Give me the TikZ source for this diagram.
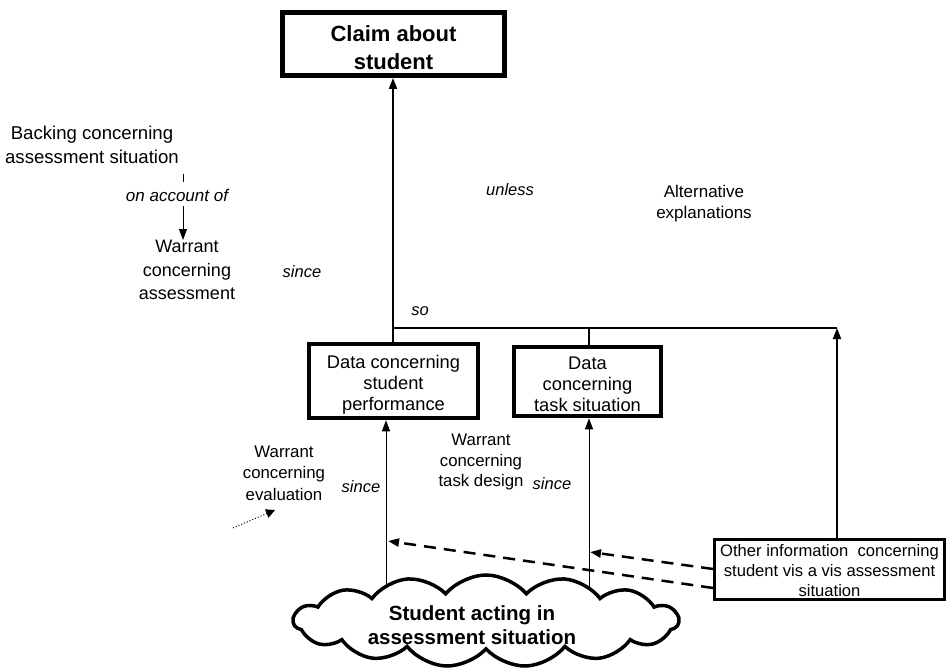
\documentclass[tikz,border=0pt]{standalone}
\usepackage{fontspec}
\setmainfont{Liberation Sans}
\usetikzlibrary{arrows.meta,shapes.symbols}
\begin{document}
\begin{tikzpicture}[x=1pt,y=-1pt,
  txt/.style={align=center,inner sep=0pt,font=\fontsize{17.5}{23.5}\selectfont},
  itl/.style={inner sep=0pt,font=\fontsize{16.5}{20}\selectfont\itshape},
  thickbox/.style={draw,line width=4.5pt,align=center,inner sep=0pt,font=\fontsize{18.3}{21.3}\selectfont},
  thinbox/.style={draw,line width=3pt,align=center,inner sep=0pt,font=\fontsize{16.6}{20}\selectfont},
  tip/.style={-{Triangle[length=11pt,width=8pt]}},
  main/.style={line width=2pt},
  thin/.style={line width=1pt},
  dashline/.style={line width=2.5pt,dash pattern=on 12pt off 8pt}
]
\useasboundingbox (0,0) rectangle (951,669);

% claim, data and other-information boxes (the struts push the lines down a little)
\node[thickbox,line width=5pt,minimum width=222pt,minimum height=63pt,
  font=\fontsize{22}{28}\selectfont\bfseries]
  (claim) at (393.5,44) {\rule{0pt}{24pt}Claim about\\student};
\node[thickbox,minimum width=169pt,minimum height=74pt] (perf) at (393.5,381)
  {\rule{0pt}{20.5pt}Data concerning\\student\\performance};
\node[thickbox,minimum width=147pt,minimum height=69pt] (task) at (587.5,381.5)
  {\rule{0pt}{18.5pt}Data\\concerning\\task situation};
\node[thinbox,minimum width=230pt,minimum height=60pt] (other) at (829.5,569.5)
  {\rule{0pt}{15pt}Other information\ \ concerning\\student vis a vis assessment\\situation};

% "so" bar joining the data to the claim
\coordinate (bar) at (393,328);
\coordinate (barend) at (837,328);
\draw[main,tip] (perf.north -| bar) -- (bar |- claim.south);
\draw[main] (bar) -- (barend);
\draw[main] (task.north -| 589,0) -- (589,328);
\draw[main,tip] (barend |- other.north) -- (barend);

% thin arrows from the cloud to the data boxes
\coordinate (s1) at (386,600);
\coordinate (s2) at (589,600);
\draw[thin,tip] (s1) -- (s1 |- perf.south);
\draw[thin,tip] (s2) -- (s2 |- task.south);

% dashed arrows from other information
\coordinate (d1) at (388,541);
\coordinate (d2) at (590,552);
\draw[dashline,tip] (other.west |- 0,588) -- (d1);
\draw[dashline,tip] (other.west |- 0,569) -- (d2);

% cloud
\node[cloud,cloud puffs=15,cloud puff arc=100,aspect=4.2,draw,line width=3.5pt,fill=white,
  minimum width=385pt,minimum height=92pt,inner sep=0pt]
  (cloud) at (486,621) {};
\node[align=center,inner sep=0pt,font=\fontsize{20.5}{24.5}\selectfont\bfseries]
  (cloudtxt) at (472,625) {Student acting in\\assessment situation};

% backing and warrants
\node[txt,font=\fontsize{18.6}{24}\selectfont] (backing) at (92,144.5) {Backing concerning\\assessment situation};
\coordinate (tick1) at (183,174);
\coordinate (tick2) at (183,182);
\draw[thin] (tick1) -- (tick2);
\node[itl,font=\fontsize{17}{20}\selectfont\itshape] (account) at (177,195) {on account of};
\coordinate (acc1) at (183,206);
\node[txt,font=\fontsize{18}{23.5}\selectfont] (wassess) at (187,270) {Warrant\\concerning\\assessment};
\draw[thin,tip] (acc1) -- (wassess.north -| acc1);

\node[itl] (since1) at (302,272) {since};
\node[itl] (unless) at (510,190) {unless};
\node[txt,font=\fontsize{17}{20.5}\selectfont] (alt) at (704,203.5) {Alternative\\explanations};
\node[itl] (so) at (420,311) {so};

\node[txt,font=\fontsize{16.8}{21.5}\selectfont] (weval) at (284,473) {Warrant\\concerning\\evaluation};
\node[itl] (since2) at (361,487) {since};
\node[txt,font=\fontsize{16.8}{20.5}\selectfont] (wtask) at (481,462) {Warrant\\concerning\\task design};
\node[itl] (since3) at (552,484) {since};

% dotted pointer towards the evaluation warrant
\coordinate (dot1) at (233,528);
\coordinate (dot2) at (275,510);
\draw[thin,dotted,-{Triangle[length=9pt,width=9pt]}] (dot1) -- (dot2);
\end{tikzpicture}
\end{document}
